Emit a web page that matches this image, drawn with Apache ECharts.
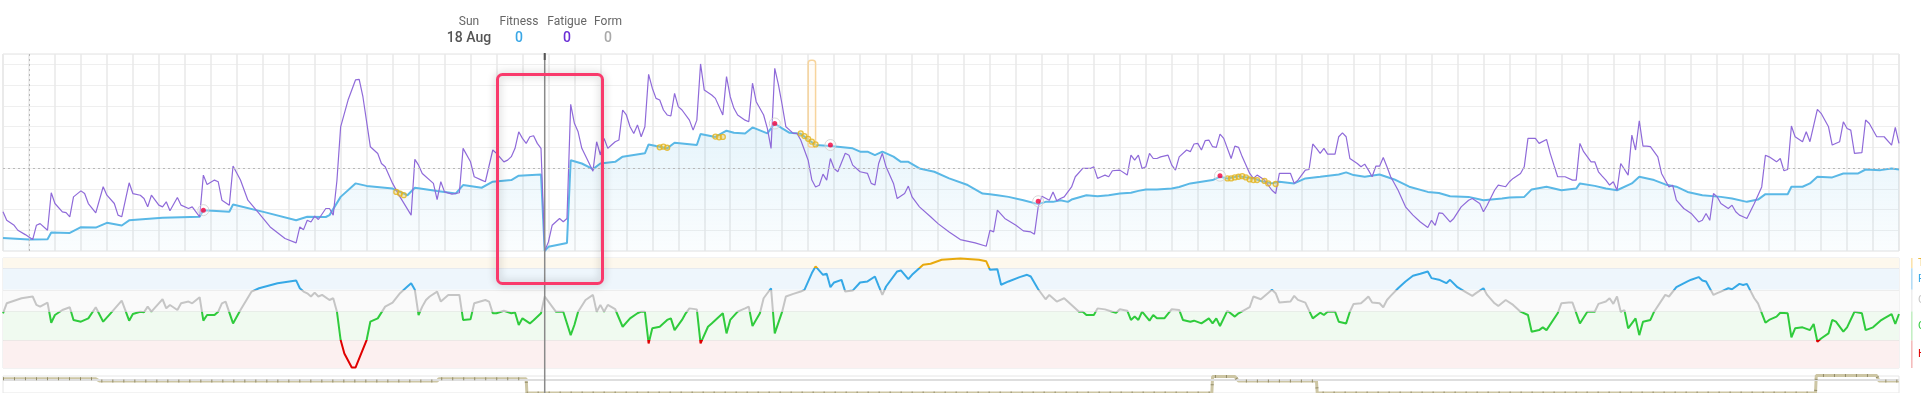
<!DOCTYPE html>
<html><head><meta charset="utf-8">
<script src="https://cdn.jsdelivr.net/npm/echarts@6/dist/echarts.min.js"></script>
<style>html,body{margin:0;padding:0;background:#fff;overflow:hidden}#c{width:1921px;height:393px}</style>
</head><body><div id="c"></div>
<script>
// ---- data (day index: 0 = Mon 1 Apr, weekly grid) ----
const fitness = [[-7,6.3],[0,5.5],[5,5.7],[6,8.9],[11,8.7],[14,11.5],[18,11.3],[21,13.6],[25,12.3],[27,14.8],[36,16],[46,16.5],[47,19.7],[54,18.9],[55,22.4],[64,18.5],[72,14.8],[75,16.5],[80,16.4],[81,17.3],[84,26.1],[88,32.6],[91,31.4],[98,30.1],[102,26.9],[104,30.5],[110,28.9],[115,27.7],[117,31.8],[122,30.5],[125,33.4],[130,34.2],[132,36.3],[138,36.9],[139,0],[140,2],[145,3.9],[146,43.8],[149,42.2],[152,39.5],[154,42.2],[158,43],[160,45.5],[166,47.1],[167,51.4],[169,50.6],[172,49.5],[174,52.2],[180,51.1],[181,56.4],[185,55],[188,58],[190,57],[193,56.7],[195,59.6],[199,56.7],[201,61.5],[203,59.1],[205,57],[208,56.5],[212,51.1],[216,50.6],[220,49.9],[222,49.5],[224,47.9],[226,47.9],[228,46.2],[230,47.9],[233,45.5],[235,43],[237,43],[240,39.8],[244,38.2],[248,35],[253,31.8],[257,27.7],[259,27.4],[261,26.9],[264,26.1],[268,24.5],[272,22.6],[274,23.7],[276,23.7],[278,24.5],[280,23.7],[281,24.8],[285,26.9],[288,26.4],[291,26.9],[294,27.7],[297,28.1],[299,29],[301,29.7],[304,29.7],[308,30.1],[310,30.9],[313,32.6],[316,33.4],[319,34.2],[321,35.8],[323,35],[326,36.1],[330,35],[332,33.8],[335,32.6],[337,33.4],[341,32.6],[344,35],[348,35.8],[353,36.9],[355,37.9],[357,36.6],[360,35.8],[364,36.9],[368,34.5],[372,31],[377,28.5],[380,28],[383,26.4],[388,26.1],[392,24.5],[397,25.3],[399,25.8],[403,26.1],[405,29.7],[409,31],[413,29.3],[417,30.1],[418,32.6],[422,31.4],[425,30.1],[428,29.3],[432,32.6],[434,35.8],[438,34.2],[441,32.1],[444,31],[447,28.5],[451,26.9],[456,26.1],[459,25.3],[463,23.7],[466,24.8],[468,27.4],[474,27.4],[475,31],[478,31],[480,32.6],[482,35.8],[486,35.5],[489,37.4],[493,37.4],[495,39.3],[499,39],[502,39.8],[504,39.3]];

const fatigue = [[-7,18.9],[-6,14.8],[-4,12.4],[-3,10],[-1,7.9],[1,5.5],[2,12.4],[3,13.2],[5,10],[6,28.1],[7,22.9],[9,18.9],[10,18.5],[11,16.5],[12,26.1],[14,29],[15,27.7],[16,22.9],[18,18.4],[20,31],[21,26.9],[23,22.9],[24,17.3],[25,16.5],[27,32.9],[28,27.7],[30,26.9],[31,25.3],[32,21.3],[33,26.9],[35,22.1],[36,21.3],[37,23.7],[38,19.4],[40,25.8],[41,22.1],[43,20.5],[44,21.3],[46,16.5],[47,36.6],[48,32.1],[50,34.2],[51,33.4],[52,24.5],[54,22.1],[55,41],[57,34.2],[59,24.5],[62,18.1],[65,11.6],[69,6],[72,3.9],[73,11.6],[74,10.3],[75,14.8],[76,14],[77,16.8],[78,15.2],[80,20.5],[81,20.5],[82,17.3],[83,34],[84,59.9],[86,72.8],[88,82.5],[89,82.8],[90,74.4],[92,50.3],[94,47],[95,42.2],[96,40.6],[98,32.6],[100,26.1],[103,17.3],[104,44.2],[105,41.4],[106,37.4],[109,32.6],[110,24.8],[111,33.4],[112,28.5],[114,27.4],[116,28.1],[117,49.5],[119,43],[120,35.8],[122,34.2],[123,33.4],[125,48.7],[126,47.1],[128,43],[129,43.8],[130,45.5],[131,49.5],[132,57.5],[133,54.3],[134,51.9],[135,55.1],[136,55.6],[137,51.9],[138,49.5],[139,0],[140,4.4],[141,12.4],[143,15.7],[144,14.1],[145,15.7],[146,70.7],[147,61.6],[148,57.5],[149,49.5],[151,42.2],[152,38.5],[153,52.7],[154,46.3],[155,54.3],[156,49.5],[157,51.1],[158,52.7],[159,53.5],[160,68],[161,65.6],[162,59.9],[163,56.7],[164,60.8],[165,55.1],[166,59.9],[167,85.2],[168,78.5],[169,73.6],[170,72.8],[171,68],[172,65.6],[173,65.1],[174,76],[175,69.6],[176,68],[178,63.1],[179,58.3],[180,63.1],[181,90.2],[182,77.6],[184,75.2],[185,73.6],[187,65.6],[188,84.1],[189,74.4],[190,68.8],[191,65.6],[193,63.1],[194,62.3],[195,80.9],[196,72],[198,65.6],[199,59.1],[200,49.5],[201,88.1],[202,80.1],[203,70.4],[204,59.9],[206,56.7],[207,56.7],[208,53.5],[210,43.8],[211,34.2],[212,30.9],[213,31.7],[214,37.1],[215,34.2],[216,44.6],[217,39.8],[218,38.2],[220,47.1],[221,46.2],[222,41.4],[224,38.2],[226,37.4],[227,32.6],[228,31.8],[229,42.2],[230,47.1],[231,40.6],[233,32.6],[234,25.3],[236,27.7],[237,31.3],[238,26.1],[240,21.3],[243,16.5],[245,13.2],[248,9.2],[251,5.5],[255,3.9],[258,2.3],[259,10],[260,9.2],[261,19.7],[263,15.7],[266,12.4],[268,9.7],[270,9.2],[271,8.1],[272,21.3],[273,26.4],[275,24.5],[276,28.5],[277,24.2],[278,25.3],[279,26.1],[281,30.9],[282,35.8],[284,39.8],[286,39.8],[287,40.6],[288,35],[289,35.8],[290,36.6],[291,35.8],[292,38.7],[294,39],[296,36.6],[297,46.2],[298,43.8],[299,46.2],[300,39.8],[301,40.6],[302,47.1],[303,44.6],[304,44.6],[305,45.4],[307,46.2],[308,41.4],[309,39],[310,45.4],[312,48.7],[313,47.9],[314,51.6],[315,51.9],[316,48.7],[317,53.2],[318,53.5],[319,50.3],[320,50],[321,56.4],[322,54.3],[324,44.6],[325,50.6],[326,50],[327,45.4],[329,37.4],[330,35],[331,36.6],[333,34.2],[335,29.3],[336,27.7],[337,37.4],[340,37.4],[341,32.6],[342,34.2],[344,39],[345,39.3],[346,51.6],[347,49.5],[348,47.1],[349,49.5],[350,46.7],[352,46.7],[353,55.1],[354,57],[355,55.1],[356,44.6],[358,42.2],[359,40.6],[360,41.9],[361,39],[362,35.8],[363,40.9],[364,40.9],[365,45.1],[366,40.6],[367,35.8],[369,29.3],[371,21.3],[373,17.3],[375,14],[377,11.3],[378,14.8],[379,12.4],[380,18.4],[381,18.1],[383,14],[384,15.7],[386,21.3],[388,24.5],[389,25.3],[391,22.9],[392,18.9],[393,22.1],[395,29.3],[396,31.8],[398,31],[399,33.4],[400,35],[402,37.4],[403,40.6],[404,54.3],[406,54.3],[407,51.9],[409,53.8],[410,47.1],[411,41.4],[412,35.8],[414,35.8],[416,34.2],[417,34.2],[418,51.9],[419,47.9],[421,43],[422,43],[423,38.2],[424,36.1],[425,34.2],[426,31.8],[427,33.4],[428,29.3],[429,42.2],[431,36.6],[432,55.9],[433,48.7],[434,62.8],[435,50.6],[436,50.6],[437,50.3],[439,45.4],[440,37.4],[442,30.9],[443,31.7],[444,24.5],[446,20.5],[448,18.1],[450,14],[451,14.8],[452,18.1],[453,14.8],[454,27.7],[455,26.1],[456,22.9],[458,20.5],[459,22.1],[460,18.9],[461,17.3],[462,16.5],[463,15.7],[465,22.9],[467,30.9],[468,46.2],[469,45.4],[471,43],[472,44.6],[473,38.7],[474,39.3],[475,60.3],[476,55.1],[478,52.7],[479,57.5],[480,52.7],[482,68.3],[483,66.4],[485,59.9],[486,51.1],[488,52.7],[489,62.3],[490,59.1],[491,58.3],[492,47.1],[494,47.4],[495,63.2],[496,61.5],[498,55.1],[500,55.1],[502,51.1],[503,59.6],[504,51.9]];

const form = [[-7,-11.2],[-6,-4.3],[-2,-0.8],[1,0.4],[2,-5.4],[3,-6.6],[5,-3.8],[6,-17.7],[7,-12.4],[9,-8.9],[11,-7],[12,-15.8],[14,-17],[16,-14.7],[18,-7],[20,-17],[22,-11.2],[25,-2.4],[27,-16.3],[28,-11.7],[30,-10.1],[31,-10.5],[32,-6.6],[33,-10.1],[35,-4.3],[36,-1.5],[37,-7.8],[38,-5.5],[40,-8.9],[41,-4.3],[43,-3.1],[44,-4.3],[46,-0.1],[47,-16.3],[48,-12.4],[50,-12.4],[51,-10.1],[52,-4.3],[53,-3.1],[55,-18.2],[57,-8.9],[60,3.8],[62,6.1],[67,9.6],[72,11.5],[73,6.1],[74,3.8],[75,2.6],[76,0.4],[77,3.1],[78,0.4],[79,1.5],[81,-2],[82,-0.8],[83,-10.1],[84,-29.7],[85,-39],[87,-48.7],[88,-48.7],[91,-29.7],[92,-17],[94,-14.7],[96,-6.6],[98,-3.8],[100,2.7],[102,7.3],[103,9.6],[104,5],[105,-12.4],[106,-6.6],[107,-2],[108,0.4],[110,3.8],[111,-3.1],[113,1.5],[116,1.5],[117,-15.8],[119,-15.4],[120,-4.3],[123,-2],[124,-3.1],[125,-11.2],[126,-11.2],[128,-9.4],[130,-11.2],[131,-10.7],[132,-19.3],[133,-14.7],[135,-18.2],[136,-16],[138,-11.2],[139,0.4],[141,-6.6],[142,-10.1],[144,-10.1],[146,-26.3],[147,-19.3],[148,-10.1],[150,-2],[152,1.5],[153,-10.1],[154,-5.4],[155,-10.1],[156,-5.4],[158,-8.4],[160,-20.5],[162,-14.7],[164,-11.2],[165,-10.1],[166,-10.1],[167,-32],[168,-21.6],[170,-20.5],[172,-15.8],[173,-14.7],[174,-22.8],[176,-15.8],[177,-11.2],[178,-7.8],[180,-8.5],[181,-32],[183,-20.5],[184,-18.2],[187,-11.2],[188,-25.1],[189,-15.8],[191,-10.1],[193,-7.8],[194,-6.6],[195,-20],[197,-11.2],[198,-0.8],[200,6.1],[201,-25.1],[203,-10.1],[204,0.4],[206,2.2],[208,3.8],[209,5],[211,16.6],[212,21.2],[214,15.4],[215,16.1],[216,6.8],[217,10.1],[219,11.9],[220,3.8],[222,4.5],[224,10.1],[226,10.8],[228,14.2],[229,7.8],[230,1.5],[231,7.3],[234,17.7],[235,18.4],[237,12.4],[238,15.4],[241,22.3],[243,23],[246,25.8],[251,26.7],[256,25.8],[258,24.7],[259,18.9],[261,19.3],[262,8.5],[264,10.8],[267,13.8],[269,15.4],[270,14.2],[272,5.4],[274,-1.5],[275,1.5],[277,-3.1],[279,-0.8],[281,-5.4],[283,-10.1],[284,-10.1],[285,-12.4],[287,-12.4],[288,-7.8],[290,-8.5],[292,-10.1],[293,-10.8],[294,-8.4],[296,-9.4],[297,-15.8],[298,-13.5],[299,-15.8],[300,-10.1],[302,-16.3],[303,-12.4],[304,-14.7],[306,-14.7],[308,-8.4],[310,-8.9],[311,-15.8],[313,-17],[314,-16.3],[316,-18.2],[318,-14.7],[319,-18.2],[320,-14.7],[321,-20],[323,-9.4],[325,-13.5],[326,-11.2],[329,-7],[330,0.4],[332,-1.5],[335,5],[336,2.7],[337,-3.8],[340,-3.1],[341,0.8],[342,-1.9],[344,-3.8],[346,-14.7],[348,-10.8],[349,-12.4],[350,-10.1],[352,-10.1],[353,-17],[355,-18.2],[356,-10.1],[357,-4.7],[359,-4.3],[360,-2],[361,0.4],[362,-3.8],[364,-4.3],[365,-7],[366,-2],[367,0.8],[369,6.1],[371,10.8],[373,14.7],[375,16.1],[377,17.7],[378,13.1],[380,12],[382,9.6],[383,11.9],[385,6.8],[387,3.8],[389,0.8],[390,2.7],[392,6.1],[393,1.5],[395,-4.3],[396,-6.1],[398,-2],[400,-5.4],[402,-10.1],[404,-12.4],[405,-23.9],[407,-22.8],[408,-20.9],[409,-22.8],[412,-11.2],[413,-4.3],[415,-3.8],[416,-3.8],[418,-18.2],[420,-10.1],[422,-10.1],[423,-4.7],[425,-3.1],[426,-0.8],[427,-4.7],[428,0.4],[429,-10.1],[430,-9],[431,-21.6],[433,-14.7],[434,-26.3],[435,-17],[437,-15.8],[438,-10.1],[441,1.5],[442,0.4],[444,6.8],[447,10.8],[448,12],[450,13.8],[451,11.5],[452,10.8],[454,1.5],[455,2.7],[456,3.8],[458,6.1],[459,5.4],[461,9.1],[462,8.4],[463,9.1],[465,-0.8],[466,-4.3],[468,-17.7],[469,-15.8],[471,-13.5],[472,-10.8],[474,-11.2],[475,-27.9],[476,-21.6],[478,-20.9],[480,-22.8],[481,-18.6],[482,-30.9],[483,-28.6],[485,-25.1],[486,-15.8],[487,-17],[489,-23.9],[490,-20.9],[492,-10.1],[494,-11.2],[495,-22.8],[497,-20.9],[499,-16.3],[500,-14.7],[502,-11.7],[503,-18.6],[504,-11.7]];

const eventDays = [[47,19.7],[201,61.5],[216,51.1],[272,24],[321,36.3]];
const fitnessMarkers = [[99,28.5],[100,27.7],[101,26.9],[170,50],[171,50.3],[172,49.8],[185,55.2],[186,54.8],[187,55],[208,56.7],[209,55.4],[210,54.1],[211,52.7],[212,51.4],[323,35],[324,35],[325,35.5],[326,35.8],[327,36.1],[328,35.5],[329,34.5],[330,34.2],[331,34.2],[333,33.8],[334,32.6],[336,32.3]];
const plannedBar = [[210,212,50,92]];
const bottomSteps = [[-7,37],[18,37],[19,31],[110,31],[110.5,37],[134,37],[134.2,0],[318.8,0],[319,42.5],[325,42.5],[326,31],[347,31],[347.2,0],[481.5,0],[481.7,45],[498,45],[498.6,31],[504,31]];
const bottomBaseline = 33.3;
const zoneBounds = [27,20,5,-10,-30,-49];
const zoneNames = ['Transition','Fresh','Grey Zone','Optimal','High Risk'];
const cursorDay = 139;
const refLines = {day:0, value:40};
const headDay = 'Sun', headDate = '18 Aug';
const headLabels = ['Fitness','Fatigue','Form'];
const headValues = [0,0,0];

// ---- styles ----
const zoneFill = ['#fdf8ed','#eef6fc','#fafafa','#f0faf0','#fcf0f0'];
const zoneLine = ['#e8a90c','#35a8e6','#c5c5c5','#2fcb3c','#e00000'];
const zoneBar = ['#fbe3ad','#b6dcf4','#eeeeee','#c4eec4','#f4bcbc'];

const chart = echarts.init(document.getElementById('c'), null, {renderer:'canvas'});
const ax = {axisLabel:{show:false},axisTick:{show:false},axisLine:{show:false}};
const option = {
  animation:false,
  grid:[
    {left:3,top:54,width:1896,height:197,show:true,borderColor:'#e2e2e2',borderWidth:1},
    {left:3,top:258,width:1896,height:110,show:true,borderColor:'#e6e6e6',borderWidth:1},
    {left:3,top:376,width:1896,height:44,show:true,borderColor:'#e6e6e6',borderWidth:1}
  ],
  xAxis:[
    Object.assign({type:'value',gridIndex:0,min:-7,max:504,interval:7,splitLine:{show:true,lineStyle:{color:'#e8e8e8',width:1.5}}},ax),
    Object.assign({type:'value',gridIndex:1,min:-7,max:504,splitLine:{show:false}},ax),
    Object.assign({type:'value',gridIndex:2,min:-7,max:504,splitLine:{show:false}},ax)
  ],
  yAxis:[
    Object.assign({type:'value',gridIndex:0,min:0,max:95,interval:10,splitLine:{show:true,lineStyle:{color:'#efefef',width:1}}},ax),
    Object.assign({type:'value',gridIndex:1,min:-49,max:27,splitLine:{show:false}},ax),
    Object.assign({type:'value',gridIndex:2,min:0,max:44,splitLine:{show:false}},ax)
  ],
  visualMap:[{
    type:'piecewise',show:false,seriesIndex:6,dimension:1,
    pieces:[
      {gt:zoneBounds[1],color:zoneLine[0]},
      {gt:zoneBounds[2],lte:zoneBounds[1],color:zoneLine[1]},
      {gt:zoneBounds[3],lte:zoneBounds[2],color:zoneLine[2]},
      {gt:zoneBounds[4],lte:zoneBounds[3],color:zoneLine[3]},
      {lte:zoneBounds[4],color:zoneLine[4]}
    ]
  }],
  series:[
    { // 0 fitness
      type:'line',xAxisIndex:0,yAxisIndex:0,data:fitness,symbol:'none',z:3,
      lineStyle:{color:'#5ab8e6',width:2},
      areaStyle:{color:new echarts.graphic.LinearGradient(0,0,0,1,[{offset:0,color:'rgba(90,184,230,0.22)'},{offset:1,color:'rgba(90,184,230,0.04)'}])},
      markLine:{silent:true,symbol:['none','none'],label:{show:false},lineStyle:{color:'#b9b9b9',type:[2,3],width:1},
        data:[{xAxis:refLines.day},{yAxis:refLines.value}]}
    },
    { // 1 fatigue
      type:'line',xAxisIndex:0,yAxisIndex:0,data:fatigue,symbol:'none',z:4,
      lineStyle:{color:'#8f6ad9',width:1.2}
    },
    { // 2 planned bar
      type:'custom',xAxisIndex:0,yAxisIndex:0,data:plannedBar,z:5,
      renderItem:function(params,api){
        const p0=api.coord([api.value(0),api.value(3)]);
        const p1=api.coord([api.value(1),api.value(2)]);
        return {type:'rect',shape:{x:p0[0],y:p0[1],width:p1[0]-p0[0],height:p1[1]-p0[1],r:3},
          style:{fill:'rgba(250,200,120,0.05)',stroke:'#f7d49c',lineWidth:1.5}};
      }
    },
    { // 3 fitness markers
      type:'scatter',xAxisIndex:0,yAxisIndex:0,data:fitnessMarkers,symbol:'circle',symbolSize:5,z:6,
      itemStyle:{color:'rgba(240,205,90,0.45)',borderColor:'#e2b31c',borderWidth:1.3}
    },
    { // 4 event halo
      type:'scatter',xAxisIndex:0,yAxisIndex:0,data:eventDays,symbol:'circle',symbolSize:11,z:6,
      itemStyle:{color:'rgba(255,255,255,0.35)',borderColor:'#cfcfcf',borderWidth:1}
    },
    { // 5 event dot
      type:'scatter',xAxisIndex:0,yAxisIndex:0,data:eventDays,symbol:'circle',symbolSize:5,z:7,
      itemStyle:{color:'#f2003c'}
    },
    { // 6 form
      type:'line',xAxisIndex:1,yAxisIndex:1,data:form,symbol:'none',z:4,
      lineStyle:{width:2},
      markArea:{silent:true,data:zoneNames.map((n,i)=>[{yAxis:zoneBounds[i],itemStyle:{color:zoneFill[i]}},{yAxis:zoneBounds[i+1]}])},
      markLine:{silent:true,symbol:['none','none'],label:{show:false},lineStyle:{color:'rgba(0,0,0,0.05)',type:'solid',width:1},
        data:zoneBounds.slice(1,5).map(v=>({yAxis:v}))}
    },
    { // 7 bottom panel band
      type:'line',xAxisIndex:2,yAxisIndex:2,data:bottomSteps,symbol:'none',clip:false,z:4,
      lineStyle:{color:'#cdc6a4',width:3},
      markLine:{silent:true,symbol:['none','none'],label:{show:false},lineStyle:{color:'#dedede',type:'solid',width:2},data:[{yAxis:bottomBaseline}]}
    },
    { // 8 bottom panel ticks
      type:'line',xAxisIndex:2,yAxisIndex:2,data:bottomSteps,symbol:'none',clip:false,z:5,
      lineStyle:{color:'#918a68',width:3,type:[1,10]}
    }
  ]
};
chart.setOption(option);

// ---- overlays positioned through the axes ----
const cx = chart.convertToPixel({xAxisIndex:0}, cursorDay);
const g = [];
g.push({type:'line',z:50,shape:{x1:cx,y1:54,x2:cx,y2:393},style:{stroke:'#8a8a8a',lineWidth:1.5}});
g.push({type:'line',z:51,shape:{x1:cx,y1:53,x2:cx,y2:60},style:{stroke:'#555',lineWidth:2}});
// header
const hx = [469, 519, 567, 608];
g.push({type:'text',z:60,style:{text:headDay,x:hx[0],y:22,align:'center',verticalAlign:'middle',font:'12px Roboto',fill:'#666'}});
g.push({type:'text',z:60,style:{text:headDate,x:hx[0],y:38,align:'center',verticalAlign:'middle',font:'500 14px Roboto',fill:'#555'}});
const valColors = ['#3aa7e6','#6a2fd6','#a9a9a9'];
headLabels.forEach((t,i)=>{
  g.push({type:'text',z:60,style:{text:t,x:hx[i+1],y:22,align:'center',verticalAlign:'middle',font:'12px Roboto',fill:'#666'}});
  g.push({type:'text',z:60,style:{text:String(headValues[i]),x:hx[i+1],y:38,align:'center',verticalAlign:'middle',font:'500 14px Roboto',fill:valColors[i]}});
});
// zone legend (cut by the right edge)
zoneNames.forEach((n,i)=>{
  const y0 = chart.convertToPixel({yAxisIndex:1}, zoneBounds[i]);
  const y1 = chart.convertToPixel({yAxisIndex:1}, zoneBounds[i+1]);
  g.push({type:'rect',z:60,shape:{x:1911,y:y0,width:1.6,height:y1-y0},style:{fill:zoneBar[i]}});
  g.push({type:'text',z:60,style:{text:n,x:1918,y:(y0+y1)/2,align:'left',verticalAlign:'middle',font:'11px Roboto',fill:zoneLine[i]}});
});
// highlight box annotation
g.push({type:'rect',z:70,shape:{x:497.5,y:74.5,width:105,height:209,r:5},
  style:{fill:null,stroke:'#f93a6c',lineWidth:3,shadowBlur:8,shadowColor:'rgba(0,0,0,0.28)'}});
chart.setOption({graphic:g});
</script>
</body></html>
